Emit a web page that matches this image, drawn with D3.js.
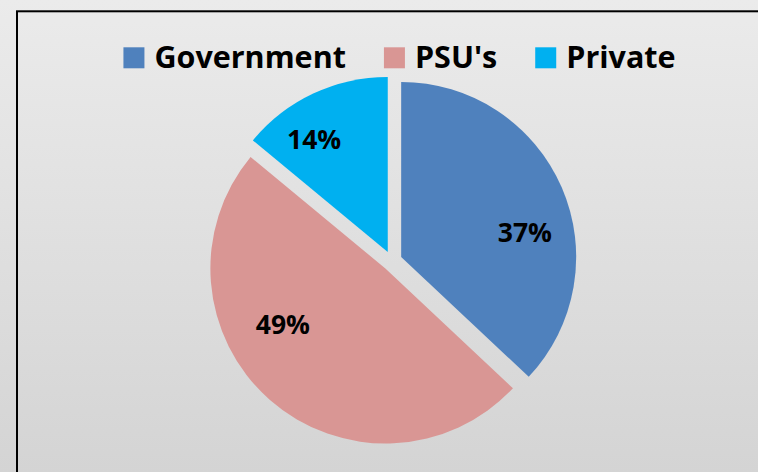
<!DOCTYPE html>
<html>
<head>
<meta charset="utf-8">
<script src="https://cdn.jsdelivr.net/npm/d3@7"></script>
<style>
  html, body { margin: 0; padding: 0; background: #e2e2e2; }
  svg { display: block; }
</style>
</head>
<body>
<svg id="chart" width="758" height="472"></svg>
<script>
// ---- data ----
const categories = ["Government", "PSU's", "Private"];
const values = [37, 49, 14];
const labels = ["37%", "49%", "14%"];
const colors = ["#4f81bd", "#d99694", "#00b0f0"];

// ---- layout ----
const W = 758, H = 472;
const cx = 392, cy = 261, radius = 175, explode = 10;
const fontFamily = "'Open Sans', 'Noto Sans', sans-serif";
// label placement (angle in degrees from top, distance from slice apex)
const labelPlace = [[78.9, 126], [241.2, 117], [326.8, 134.5]];

const svg = d3.select("#chart");
const defs = svg.append("defs");
const grad = defs.append("linearGradient").attr("id", "bg").attr("x1", 0).attr("y1", 0).attr("x2", 0).attr("y2", 1);
grad.append("stop").attr("offset", "0%").attr("stop-color", "#ebebeb");
grad.append("stop").attr("offset", "100%").attr("stop-color", "#d4d4d4");

svg.append("rect").attr("x", 0).attr("y", 0).attr("width", W).attr("height", H).attr("fill", "url(#bg)");
// frame (extends beyond right & bottom)
svg.append("rect").attr("x", 17).attr("y", 11.3).attr("width", W + 20).attr("height", H + 20)
  .attr("fill", "none").attr("stroke", "#000").attr("stroke-width", 2);

const pie = d3.pie().sort(null).value(d => d).startAngle(0).endAngle(2 * Math.PI);
const arcs = pie(values);
const arc = d3.arc().innerRadius(0).outerRadius(radius);

const g = svg.append("g").attr("transform", `translate(${cx},${cy})`);
const slices = g.selectAll("g.slice").data(arcs).enter().append("g")
  .attr("class", "slice")
  .attr("transform", d => {
    const a = (d.startAngle + d.endAngle) / 2;
    return `translate(${explode * Math.sin(a)},${-explode * Math.cos(a)})`;
  });
slices.append("path").attr("d", arc).attr("fill", (d, i) => colors[i]);
slices.append("text")
  .attr("x", (d, i) => labelPlace[i][1] * Math.sin(labelPlace[i][0] * Math.PI / 180))
  .attr("y", (d, i) => -labelPlace[i][1] * Math.cos(labelPlace[i][0] * Math.PI / 180))
  .attr("dy", "0.357em")
  .attr("text-anchor", "middle")
  .attr("font-family", fontFamily)
  .attr("font-weight", 700)
  .attr("font-size", 26.5)
  .attr("fill", "#000")
  .text((d, i) => labels[i]);

// ---- legend ----
const legend = svg.append("g");
const sw = 21, gapText = 10, gapItem = 38, legendBaseline = 67.7, fs = 30.5;
const items = legend.selectAll("g").data(categories).enter().append("g");
items.append("rect").attr("width", sw).attr("height", sw).attr("y", 47.3)
  .attr("fill", (d, i) => colors[i]);
items.append("text").attr("x", sw + gapText).attr("y", legendBaseline)
  .attr("font-family", fontFamily).attr("font-weight", 700).attr("font-size", fs)
  .attr("fill", "#000").text(d => d);
let widths = [];
items.each(function () { widths.push(this.querySelector("text").getComputedTextLength()); });
const total = widths.reduce((s, w) => s + sw + gapText + w, 0) + gapItem * (widths.length - 1);
let x0 = 399.5 - total / 2;
items.attr("transform", (d, i) => {
  const x = x0;
  x0 += sw + gapText + widths[i] + gapItem;
  return `translate(${x},0)`;
});
</script>
</body>
</html>
